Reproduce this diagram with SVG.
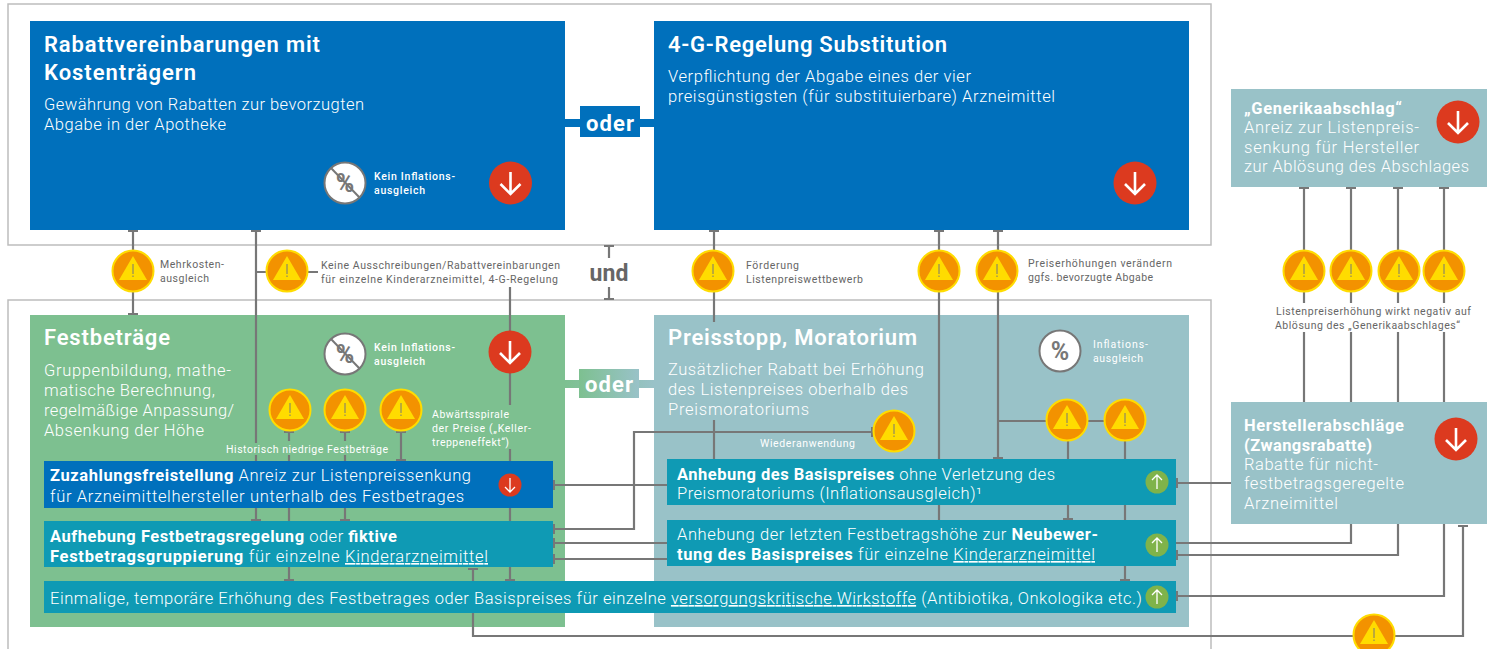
<svg xmlns="http://www.w3.org/2000/svg" width="1487" height="649" viewBox="0 0 1487 649">
<style>
text{font-family:Roboto,"Liberation Sans",sans-serif;fill:#fff}
.h{font-size:22px;font-weight:600}
.d{font-size:16.5px;font-weight:300}
.r{font-size:16.5px;font-weight:300}
.g{font-size:16.5px;font-weight:300}
.s{font-size:10.5px;fill:#666}
.w{font-size:10.5px;fill:#fff}
.k{font-weight:500}
.b{font-weight:700}
.g.b{font-weight:700}
.u{text-decoration:underline}
.c{fill:none;stroke:#777;stroke-width:2.2}
.f{fill:none;stroke:#bdbdbd;stroke-width:1.5}
.blue{fill:#0070bc}.teal{fill:#0f9ab4}.pale{fill:#99c2c8}.green{fill:#7dc090}
.red{fill:#dc3a1f}.up{fill:#7fb34a}
.ar{fill:none;stroke:#fff;stroke-width:2.6}
.ars{fill:none;stroke:#fff;stroke-width:1.3}
</style>
<defs>
<marker id="t" viewBox="0 0 2 10" refX="1" refY="5" markerWidth="2.200" markerHeight="10" markerUnits="userSpaceOnUse" orient="auto"><path d="M1 0V10" stroke="#777" stroke-width="2"/></marker>
<linearGradient id="og" x1="0" x2="1" y1="0" y2="0"><stop offset="0" stop-color="#7dc090"/><stop offset="1" stop-color="#99c2c8"/></linearGradient>
<g id="warn"><circle r="20.500" fill="#f39200" stroke="#ffdc00" stroke-width="2"/><path d="M0-15L14 9H-14Z" fill="#ffdc00"/><path d="M0-7V3M0 4.500V6" stroke="#777" stroke-width="1"/></g>
<g id="down"><circle r="21.500" class="red"/><path class="ar" d="M0-11V11M-10 1L0 11L10 1"/></g>
<g id="dsm"><circle r="11.500" class="red"/><path class="ars" d="M0-7V7M-5 2L0 7L5 2"/></g>
<g id="ups"><circle r="11.500" class="up"/><path class="ars" d="M0 7V-7M-5-2L0-7L5-2"/></g>
<g id="pc"><circle r="20.500" fill="#fff" stroke="#777" stroke-width="2"/></g>
</defs>
<rect width="1487" height="649" fill="#fff"/>
<path class="f" d="M8 4H1211V245H8Z"/>
<path class="f" d="M8 649V300H1211V649"/>

<g id="band-oder-1"><rect x="565" y="119" width="89" height="8" class="blue"/><rect x="580" y="106" width="60" height="31" class="blue"/><text x="610" y="131" text-anchor="middle" class="b" font-size="22" textLength="48">oder</text></g>
<g id="band-oder-2"><rect x="565" y="380" width="89" height="8" fill="url(#og)"/><rect x="579" y="369" width="60" height="29" fill="url(#og)"/><text x="609" y="392" text-anchor="middle" class="b" font-size="22" textLength="48">oder</text></g>

<g id="rabatt"><rect x="30" y="21" width="535" height="209" class="blue"/>
<text x="44" y="52" class="h" textLength="276">Rabattvereinbarungen mit</text>
<text x="44" y="80" class="h" textLength="152">Kostenträgern</text>
<text x="44" y="110" class="d" textLength="320">Gewährung von Rabatten zur bevorzugten</text>
<text x="44" y="130" class="d" textLength="182">Abgabe in der Apotheke</text>
<text x="374" y="180" class="w k" textLength="81">Kein Inflations-</text>
<text x="374" y="194" class="w k" textLength="51">ausgleich</text>
</g>
<g id="regelung"><rect x="654" y="21" width="535" height="209" class="blue"/>
<text x="668" y="52" class="h" textLength="279">4-G-Regelung Substitution</text>
<text x="668" y="82" class="d" textLength="303">Verpflichtung der Abgabe eines der vier</text>
<text x="668" y="102" class="d" textLength="387">preisgünstigsten (für substituierbare) Arzneimittel</text>
</g>
<g id="festbetraege"><rect x="30" y="315" width="535" height="312" class="green"/>
<text x="44" y="345" class="h" textLength="126">Festbeträge</text>
<text x="44" y="376" class="d" textLength="187">Gruppenbildung, mathe-</text>
<text x="44" y="396" class="d" textLength="171">matische Berechnung,</text>
<text x="44" y="416" class="d" textLength="190">regelmäßige Anpassung/</text>
<text x="44" y="436" class="d" textLength="160">Absenkung der Höhe</text>
<text x="374" y="351" class="w k" textLength="81">Kein Inflations-</text>
<text x="374" y="365" class="w k" textLength="51">ausgleich</text>
<text x="226" y="453" class="w" font-size="11" textLength="162">Historisch niedrige Festbeträge</text>
<text x="432" y="418" class="w" textLength="77">Abwärtsspirale</text>
<text x="432" y="432" class="w" textLength="99">der Preise („Keller-</text>
<text x="432" y="446" class="w" textLength="77">treppeneffekt“)</text>
</g>
<g id="preisstopp"><rect x="654" y="315" width="535" height="312" class="pale"/>
<text x="668" y="345" class="h" textLength="249">Preisstopp, Moratorium</text>
<text x="668" y="375" class="d" textLength="256">Zusätzlicher Rabatt bei Erhöhung</text>
<text x="668" y="395" class="d" textLength="240">des Listenpreises oberhalb des</text>
<text x="668" y="415" class="d" textLength="141">Preismoratoriums</text>
<text x="1093" y="348" class="w" textLength="55">Inflations-</text>
<text x="1093" y="362" class="w" textLength="50">ausgleich</text>
<text x="760" y="447" class="w" textLength="95">Wiederanwendung</text>
</g>
<g id="generika"><rect x="1231" y="89" width="256" height="98" class="pale"/>
<text x="1244" y="114" class="g b" textLength="158">„Generikaabschlag“</text>
<text x="1244" y="133" class="g" textLength="175">Anreiz zur Listenpreis-</text>
<text x="1244" y="153" class="g" textLength="175">senkung für Hersteller</text>
<text x="1244" y="172" class="g" textLength="225">zur Ablösung des Abschlages</text>
</g>
<g id="hersteller"><rect x="1231" y="402" width="256" height="122" class="pale"/>
<text x="1244" y="431" class="g b" textLength="160">Herstellerabschläge</text>
<text x="1244" y="451" class="g b" textLength="128">(Zwangsrabatte)</text>
<text x="1244" y="470" class="g" textLength="134">Rabatte für nicht-</text>
<text x="1244" y="489" class="g" textLength="160">festbetragsgeregelte</text>
<text x="1244" y="509" class="g" textLength="94">Arzneimittel</text>
</g>

<g id="connectors">
<path class="c" d="M133 231V314" marker-start="url(#t)" marker-end="url(#t)"/>
<path class="c" d="M256 231V443" marker-start="url(#t)"/>
<path class="c" d="M256 455V520" marker-end="url(#t)"/>
<path class="c" d="M256 272H318"/>
<path class="c" d="M510 287V405"/>
<path class="c" d="M510 449V580" marker-end="url(#t)"/>
<path class="c" d="M289 432V441" marker-start="url(#t)"/>
<path class="c" d="M289 455V580" marker-end="url(#t)"/>
<path class="c" d="M345 432V441" marker-start="url(#t)"/>
<path class="c" d="M345 455V520" marker-end="url(#t)"/>
<path class="c" d="M401 432V460" marker-start="url(#t)" marker-end="url(#t)"/>
<path class="c" d="M473 569V636H1463V526" marker-start="url(#t)" marker-end="url(#t)"/>
<path class="c" d="M554 485H667" marker-start="url(#t)"/>
<path class="c" d="M554 529H634V432H872" marker-start="url(#t)" marker-end="url(#t)"/>
<path class="c" d="M554 543H667" marker-start="url(#t)"/>
<path class="c" d="M554 559H667" marker-start="url(#t)"/>
<path class="c" d="M714 231V322" marker-start="url(#t)"/>
<path class="c" d="M714 420V459"/>
<path class="c" d="M939 231V520" marker-start="url(#t)"/>
<path class="c" d="M998 231V458" marker-start="url(#t)" marker-end="url(#t)"/>
<path class="c" d="M998 421H1125"/>
<path class="c" d="M1068 421V519" marker-end="url(#t)"/>
<path class="c" d="M1125 421V580" marker-end="url(#t)"/>
<path class="c" d="M1177 483H1231" marker-start="url(#t)"/>
<path class="c" d="M1351 524V543H1176"/>
<path class="c" d="M1398 524V555H1177" marker-end="url(#t)"/>
<path class="c" d="M1444 524V596H1177" marker-end="url(#t)"/>
<path class="c" d="M1304 188V303" marker-start="url(#t)"/><path class="c" d="M1304 332V402"/>
<path class="c" d="M1351 188V303" marker-start="url(#t)"/><path class="c" d="M1351 332V402"/>
<path class="c" d="M1398 188V303" marker-start="url(#t)"/><path class="c" d="M1398 332V402"/>
<path class="c" d="M1444 188V303" marker-start="url(#t)"/><path class="c" d="M1444 332V402"/>
<path class="c" d="M609 246V258" marker-start="url(#t)"/>
<path class="c" d="M609 287V299" marker-end="url(#t)"/>
</g>

<g id="zuzahlung"><rect x="44" y="461" width="509" height="47" class="blue"/>
<text x="50" y="481" class="r" textLength="421"><tspan class="b">Zuzahlungsfreistellung</tspan> Anreiz zur Listenpreissenkung</text>
<text x="50" y="502" class="r" textLength="414">für Arzneimittelhersteller unterhalb des Festbetrages</text>
<use href="#dsm" x="510" y="485"/></g>
<g id="aufhebung"><rect x="44" y="521" width="509" height="46" class="teal"/>
<text x="50" y="542" class="r" textLength="347"><tspan class="b">Aufhebung Festbetragsregelung</tspan> oder <tspan class="b">fiktive</tspan></text>
<text x="50" y="562" class="r" textLength="438"><tspan class="b">Festbetragsgruppierung</tspan> für einzelne <tspan class="u">Kinderarzneimittel</tspan></text>
</g>
<g id="einmalig"><rect x="44" y="581" width="1132" height="32" class="teal"/>
<text x="50" y="604" class="r" textLength="1092">Einmalige, temporäre Erhöhung des Festbetrages oder Basispreises für einzelne <tspan class="u">versorgungskritische Wirkstoffe</tspan> (Antibiotika, Onkologika etc.)</text>
<use href="#ups" x="1157" y="597"/></g>
<g id="anhebung-basis"><rect x="667" y="459" width="509" height="46" class="teal"/>
<text x="677" y="480" class="r" textLength="378"><tspan class="b">Anhebung des Basispreises</tspan> ohne Verletzung des</text>
<text x="677" y="499" class="r" textLength="305">Preismoratoriums (Inflationsausgleich)¹</text>
<use href="#ups" x="1157" y="482"/></g>
<g id="anhebung-fest"><rect x="667" y="520" width="509" height="46" class="teal"/>
<text x="677" y="540" class="r" textLength="421">Anhebung der letzten Festbetragshöhe zur <tspan class="b">Neubewer-</tspan></text>
<text x="677" y="560" class="r" textLength="418"><tspan class="b">tung des Basispreises</tspan> für einzelne <tspan class="u">Kinderarzneimittel</tspan></text>
<use href="#ups" x="1157" y="545"/></g>

<g id="icons-top">
<use href="#pc" x="345" y="183"/><text x="345" y="192" text-anchor="middle" class="b" font-size="25" style="fill:#777">%</text><path d="M331 168L360 198" stroke="#777" stroke-width="2"/>
<use href="#down" x="510.500" y="183"/>
<use href="#down" x="1135" y="183"/>
<use href="#pc" x="345" y="354"/><text x="345" y="363" text-anchor="middle" class="b" font-size="25" style="fill:#777">%</text><path d="M331 339L360 369" stroke="#777" stroke-width="2"/>
<use href="#down" x="510" y="352"/>
<use href="#pc" x="1060" y="351"/><text x="1060" y="360" text-anchor="middle" class="b" font-size="25" style="fill:#777">%</text>
<use href="#down" x="1458" y="122"/>
<use href="#down" x="1456" y="439"/>
</g>
<g id="warnings">
<use href="#warn" x="133" y="271"/><use href="#warn" x="287" y="271"/><use href="#warn" x="713" y="271"/><use href="#warn" x="939" y="271"/><use href="#warn" x="997" y="271"/>
<use href="#warn" x="290" y="410"/><use href="#warn" x="345" y="410"/><use href="#warn" x="401" y="410"/>
<use href="#warn" x="894" y="431"/><use href="#warn" x="1067" y="420"/><use href="#warn" x="1125" y="420"/>
<use href="#warn" x="1304" y="271"/><use href="#warn" x="1351" y="271"/><use href="#warn" x="1399" y="271"/><use href="#warn" x="1444" y="271"/>
<use href="#warn" x="1374" y="635"/>
</g>
<g id="labels">
<text x="160" y="268" class="s" textLength="64">Mehrkosten-</text>
<text x="160" y="282" class="s" textLength="49">ausgleich</text>
<text x="321" y="269" class="s" textLength="239">Keine Ausschreibungen/Rabattvereinbarungen</text>
<text x="321" y="283" class="s" textLength="237">für einzelne Kinderarzneimittel, 4-G-Regelung</text>
<text x="746" y="269" class="s" textLength="53">Förderung</text>
<text x="746" y="283" class="s" textLength="117">Listenpreiswettbewerb</text>
<text x="1028" y="267" class="s" textLength="144">Preiserhöhungen verändern</text>
<text x="1028" y="281" class="s" textLength="125">ggfs. bevorzugte Abgabe</text>
<text x="1276" y="315" class="s" textLength="195">Listenpreiserhöhung wirkt negativ auf</text>
<text x="1275" y="329" class="s" textLength="185">Ablösung des „Generikaabschlages“</text>
<text x="609" y="281" text-anchor="middle" class="b" font-size="23" style="fill:#666" textLength="39">und</text>
</g>
</svg>
